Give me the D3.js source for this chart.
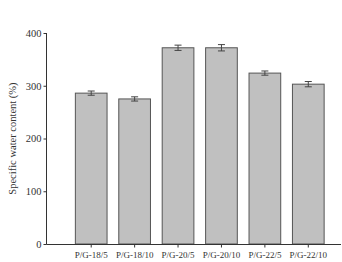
<!DOCTYPE html>
<html>
<head>
<meta charset="utf-8">
<title>Specific water content</title>
<style>
  body { margin: 0; background: #fff; }
  text { font-family: "Liberation Serif", "DejaVu Serif", serif; fill: #333; }
  .bar { fill: #c0c0c0; stroke: #555; stroke-width: 1; }
  .err { stroke: #444; stroke-width: 1; fill: none; }
</style>
</head>
<body>
<svg width="342" height="262"></svg>
<script src="https://d3js.org/d3.v7.min.js"></script>
<script>
// data
var samples = ["P/G-18/5", "P/G-18/10", "P/G-20/5", "P/G-20/10", "P/G-22/5", "P/G-22/10"];
var waterContent = [286, 275, 372, 372, 324, 303];
var errors = [4, 4, 5, 6, 4, 5];
var yTicks = [0, 100, 200, 300, 400];

var svg = d3.select("svg");

var x = d3.scaleBand()
    .domain(samples)
    .range([69.5, 330])
    .paddingInner(0.27)
    .paddingOuter(0.135);

var y = d3.scaleLinear()
    .domain([0, 400])
    .range([244, 33]);

// bars
svg.append("g").selectAll("rect")
    .data(samples)
    .enter().append("rect")
    .attr("class", "bar")
    .attr("x", function(d) { return x(d); })
    .attr("width", x.bandwidth())
    .attr("y", function(d, i) { return y(waterContent[i]); })
    .attr("height", function(d, i) { return y(0) - y(waterContent[i]); });

// error bars
var eb = svg.append("g").selectAll("g")
    .data(samples)
    .enter().append("g")
    .attr("class", "err");
eb.append("line")
    .attr("x1", function(d) { return x(d) + x.bandwidth() / 2; })
    .attr("x2", function(d) { return x(d) + x.bandwidth() / 2; })
    .attr("y1", function(d, i) { return y(waterContent[i] + errors[i]); })
    .attr("y2", function(d, i) { return y(waterContent[i] - errors[i]); });
[1, -1].forEach(function(s) {
  eb.append("line")
      .attr("x1", function(d) { return x(d) + x.bandwidth() / 2 - 3.5; })
      .attr("x2", function(d) { return x(d) + x.bandwidth() / 2 + 3.5; })
      .attr("y1", function(d, i) { return y(waterContent[i] + s * errors[i]); })
      .attr("y2", function(d, i) { return y(waterContent[i] + s * errors[i]); });
});

// y axis
var yAxis = svg.append("g")
    .attr("transform", "translate(46.5,0)")
    .call(d3.axisLeft(y).tickValues(yTicks).tickSize(3).tickPadding(2));
yAxis.select(".domain").attr("d", "M0," + y(400) + "V" + (y(0) + 0.5)).attr("stroke", "#333");
yAxis.selectAll(".tick line").attr("stroke", "#333");
yAxis.selectAll("text").style("font-size", "10.5px");

// x axis
var xAxis = svg.append("g")
    .attr("transform", "translate(0," + (y(0) + 0.5) + ")")
    .call(d3.axisBottom(x).tickSize(3).tickPadding(4));
xAxis.select(".domain").attr("d", "M46.5,0H341").attr("stroke", "#333");
xAxis.selectAll(".tick line").attr("stroke", "#333");
xAxis.selectAll("text").style("font-size", "9px");

// y label
svg.append("text")
    .attr("transform", "translate(16," + y(200) + ") rotate(-90)")
    .attr("text-anchor", "middle")
    .style("font-size", "10.5px")
    .text("Specific water content (%)");
</script>
</body>
</html>
